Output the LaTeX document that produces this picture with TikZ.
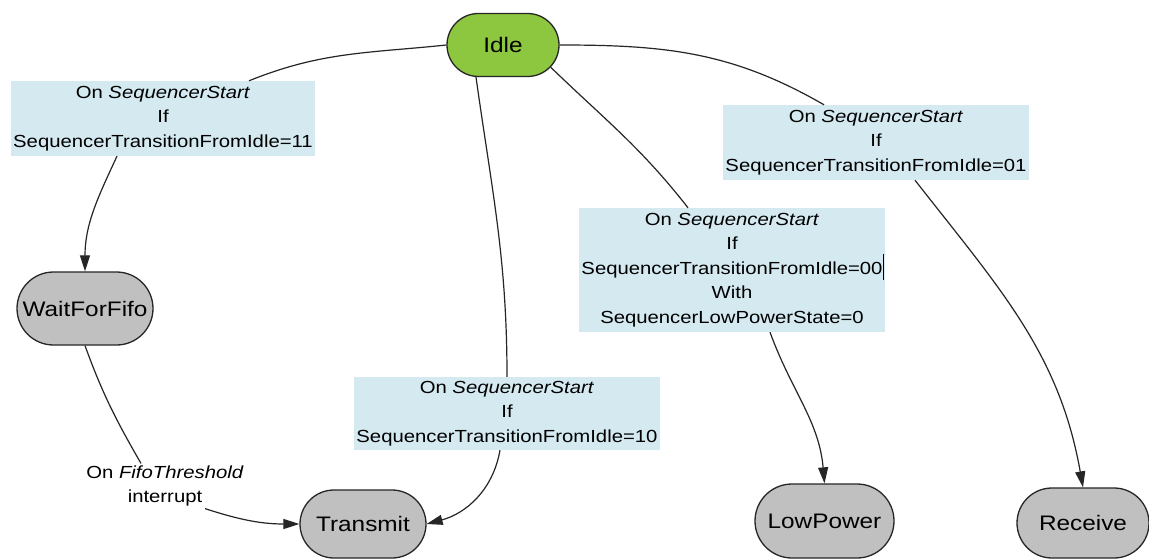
\documentclass[tikz,border=0pt]{standalone}
\usepackage{fontspec}
\setmainfont[FakeStretch=1.16]{Liberation Sans}
\usetikzlibrary{shapes.misc,arrows.meta}
\definecolor{idlegreen}{RGB}{141,198,63}
\definecolor{stategray}{RGB}{192,192,192}
\definecolor{condblue}{RGB}{212,233,240}
\tikzset{
	statebox/.style={rounded rectangle, draw=black!85, line width=1.3pt, fill=stategray, inner sep=2pt, font=\fontsize{21}{25}\selectfont},
	condbox/.style={rectangle, fill=condblue, inner sep=2pt, minimum width=304pt, align=center, font=\fontsize{17.5}{24.5}\selectfont},
	trans/.style={line width=1.2pt, black!85},
	arr/.style={trans, -{Triangle[length=16pt,width=10pt]}}
}
\begin{document}
\begin{tikzpicture}[x=1pt,y=-1pt]
		
		% THE FRAME
		\clip (0,0) rectangle (1149,559);
		\fill[white] (0,0) rectangle (1149,559);
		%
		% THE STATES
		\node[statebox, fill=idlegreen, minimum width=116pt, minimum height=63pt] (Idle) at (503,45) {Idle};
		\node[statebox, minimum width=140pt, minimum height=73pt] (WaitForFifo) at (85,308.5) {WaitForFifo};
		\node[statebox, minimum width=130pt, minimum height=68pt] (Transmit) at (363,524) {Transmit};
		\node[statebox, minimum width=143pt, minimum height=74pt] (LowPower) at (824.5,521) {LowPower};
		\node[statebox, minimum width=136pt, minimum height=70pt] (Receive) at (1083,523) {Receive};
		%
		% THE CONDITIONS
		\node[condbox, minimum height=75pt] (c11) at (163,118.5)
		{On \textit{SequencerStart}\\If\\SequencerTransitionFromIdle=11};
		\node[condbox, minimum height=75pt] (c01) at (876,142.5)
		{On \textit{SequencerStart}\\If\\SequencerTransitionFromIdle=01};
		\node[condbox, minimum height=73pt] (c10) at (507,413.5)
		{On \textit{SequencerStart}\\If\\SequencerTransitionFromIdle=10};
		\node[condbox, minimum height=124pt] (c00) at (732,270)
		{On \textit{SequencerStart}\\If\\SequencerTransitionFromIdle=00\rlap{\vrule height 1.15em depth .35em width 1.2pt}\\With\\SequencerLowPowerState=0};
		\node[align=center, inner sep=2pt, font=\fontsize{17.5}{24.5}\selectfont] (fifo) at (165,486)
		{On \textit{FifoThreshold}\\interrupt};
		%
		% THE TRANSITIONS
		% TO WAITFORFIFO
		\draw[trans] (Idle.west) to[out=186,in=22] ([xshift=86pt]c11.north);
		\draw[arr] ([xshift=-46pt]c11.south) to[out=-115,in=90] (WaitForFifo.north);
		% TO TRANSMIT
		\draw[trans] ([xshift=-27pt]Idle.south) to[out=-82,in=90] (c10.north);
		\draw[arr] ([xshift=-7pt]c10.south) to[out=-100,in=15] (Transmit.east);
		\draw[trans] (WaitForFifo.south) to[out=-70,in=120] ([xshift=-24pt]fifo.north);
		\draw[arr] ([xshift=40pt]fifo.south) to[out=-18,in=180] (Transmit.west);
		% TO LOWPOWER
		\draw[trans] (Idle.-25) to[out=-44,in=128] ([xshift=-44pt]c00.north);
		\draw[arr] ([xshift=38pt]c00.south) to[out=-70,in=95] (LowPower.north);
		% TO RECEIVE
		\draw[trans] (Idle.east) to[out=0,in=150] ([xshift=-52pt]c01.north);
		\draw[arr] ([xshift=39pt]c01.south) to[out=-52,in=100] (Receive.north);
	\end{tikzpicture}
\end{document}
